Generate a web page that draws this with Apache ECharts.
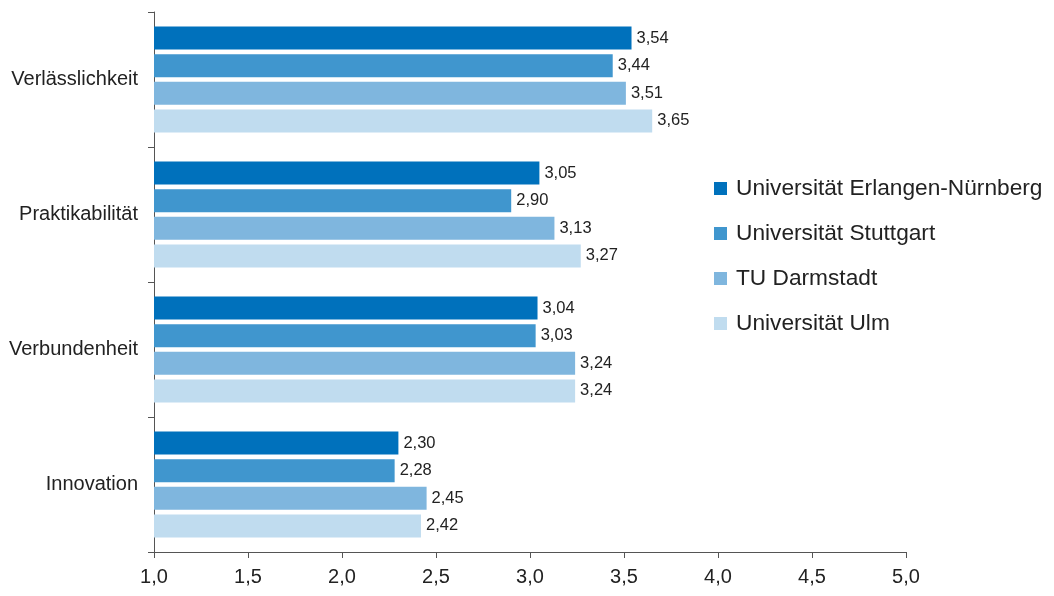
<!DOCTYPE html>
<html>
<head>
<meta charset="utf-8">
<script src="https://cdn.jsdelivr.net/npm/echarts@6/dist/echarts.min.js"></script>
<style>
  html, body { margin: 0; padding: 0; background: #fff; }
  #main { width: 1054px; height: 596px; }
</style>
</head>
<body>
<div id="main"></div>
<script>
// Kategorien von oben nach unten
var categories = ["Verlässlichkeit", "Praktikabilität", "Verbundenheit", "Innovation"];
var seriesNames = ["Universität Erlangen-Nürnberg", "Universität Stuttgart", "TU Darmstadt", "Universität Ulm"];
var erlangen = [3.54, 3.05, 3.04, 2.30];
var stuttgart = [3.44, 2.90, 3.03, 2.28];
var darmstadt = [3.51, 3.13, 3.24, 2.45];
var ulm = [3.65, 3.27, 3.24, 2.42];
var colors = ["#0071bc", "#4096ce", "#7fb6de", "#c0dcef"];

var values = [erlangen, stuttgart, darmstadt, ulm];

function komma(v) {
    return v.toFixed(2).replace(".", ",");
}

var myChart = echarts.init(document.getElementById('main'));
var option = {
    animation: false,
    textStyle: { fontFamily: "Liberation Sans, Arial, sans-serif" },
    grid: { left: 154, right: 148, top: 12, bottom: 44 },
    legend: {
        orient: "vertical",
        left: 709,
        top: 172,
        itemWidth: 13,
        itemHeight: 13,
        itemGap: 22,
        icon: "rect",
        textStyle: {
            fontSize: 22.7,
            color: "#222",
            padding: [0, 0, 0, 4],
            fontFamily: "Liberation Sans, Arial, sans-serif"
        },
        data: seriesNames
    },
    xAxis: {
        type: "value",
        min: 1,
        max: 5,
        interval: 0.5,
        splitLine: { show: false },
        axisLine: { show: true, lineStyle: { color: "#555" } },
        axisTick: { show: true, length: 6, lineStyle: { color: "#555" } },
        axisLabel: {
            fontSize: 20,
            color: "#222",
            margin: 15,
            formatter: function (v) { return v.toFixed(1).replace(".", ","); }
        }
    },
    yAxis: {
        type: "category",
        data: categories,
        inverse: true,
        axisLine: { show: true, lineStyle: { color: "#555" } },
        axisTick: { show: true, length: 6, lineStyle: { color: "#555" } },
        axisLabel: { fontSize: 20, color: "#222", margin: 16 }
    },
    series: seriesNames.map(function (name, i) {
        return {
            name: name,
            type: "bar",
            data: values[i],
            barWidth: 23,
            barGap: "20%",
            itemStyle: { color: colors[i] },
            label: {
                show: true,
                position: "right",
                distance: 5,
                fontSize: 16.5,
                color: "#222",
                formatter: function (p) { return komma(p.value); }
            }
        };
    })
};
myChart.setOption(option);
</script>
</body>
</html>
